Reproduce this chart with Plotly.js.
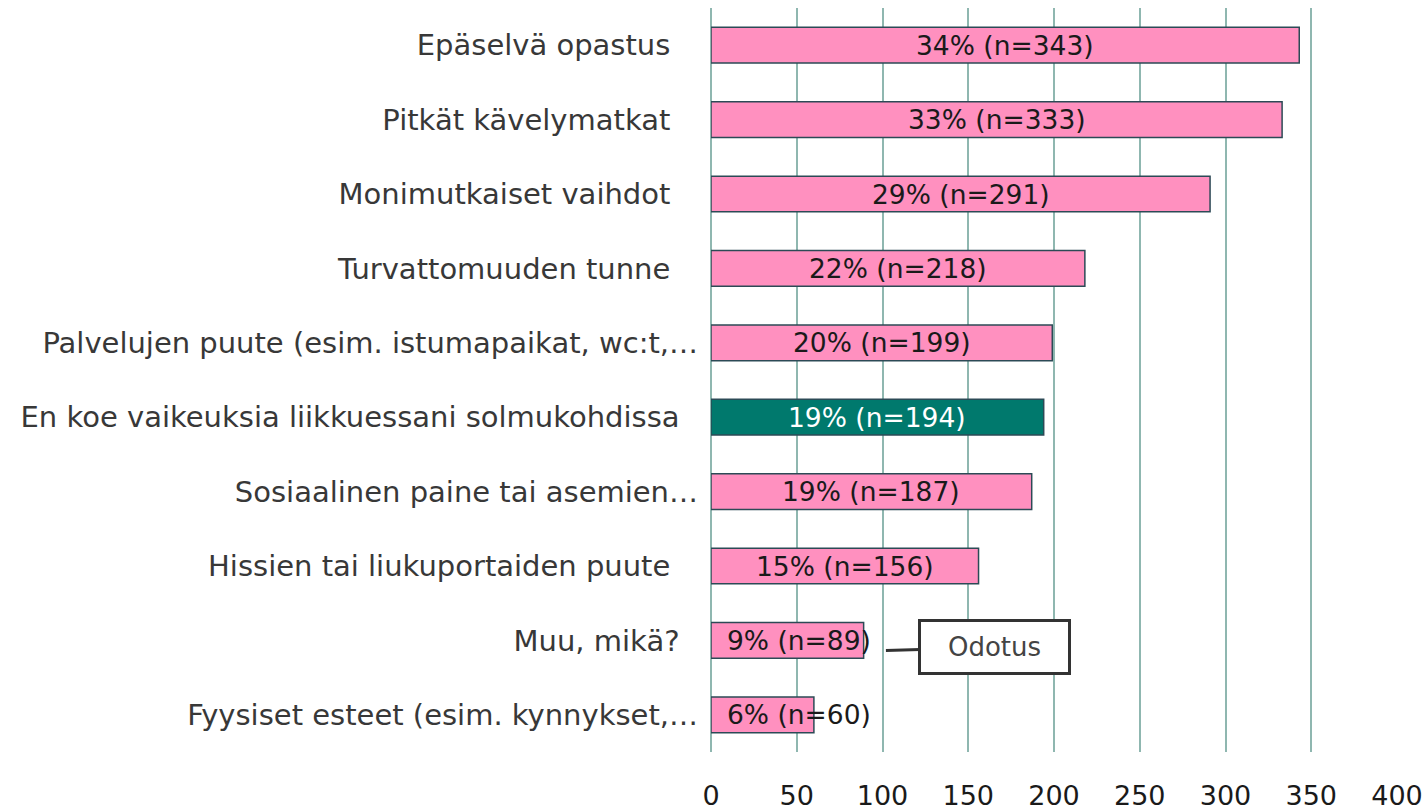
<!DOCTYPE html>
<html>
<head>
<meta charset="utf-8">
<script src="https://cdn.plot.ly/plotly-3.0.1.min.js"></script>
<style>html,body{margin:0;padding:0;background:#fff;}#chart{width:1425px;height:811px;}</style>
</head>
<body>
<div id="chart"></div>
<script>
const categories = [
  "Epäselvä opastus\u00a0\u00a0\u00a0",
  "Pitkät kävelymatkat\u00a0\u00a0\u00a0",
  "Monimutkaiset vaihdot\u00a0\u00a0\u00a0",
  "Turvattomuuden tunne\u00a0\u00a0\u00a0",
  "Palvelujen puute (esim. istumapaikat, wc:t,…",
  "En koe vaikeuksia liikkuessani solmukohdissa\u00a0\u00a0",
  "Sosiaalinen paine tai asemien…",
  "Hissien tai liukuportaiden puute\u00a0\u00a0\u00a0",
  "Muu, mikä?\u00a0\u00a0",
  "Fyysiset esteet (esim. kynnykset,…"
];
const counts = [343, 333, 291, 218, 199, 194, 187, 156, 89, 60];
const percents = [34, 33, 29, 22, 20, 19, 19, 15, 9, 6];
const highlighted = [false, false, false, false, false, true, false, false, false, false];
const xTicks = [0, 50, 100, 150, 200, 250, 300, 350, 400];
const calloutText = "Odotus";
const calloutCategoryIndex = 8;

const PINK = "#ff90bf", TEAL = "#00796d";
const FONT = "DejaVu Sans, sans-serif";

const trace = {
  type: "bar",
  orientation: "h",
  y: categories,
  x: counts,
  width: 0.48,
  marker: {
    color: highlighted.map(h => h ? TEAL : PINK),
    line: {color: "#2c4a56", width: 1.5}
  },
  hoverinfo: "none"
};

// labels centred in the bar; short bars get the label left-inset instead
const annotations = counts.map((c, i) => {
  const small = c < 100;
  return {
    x: small ? 0 : c / 2, y: categories[i], xref: "x", yref: "y",
    xanchor: small ? "left" : "center",
    xshift: small ? 14 : 0,
    text: percents[i] + "% (n=" + c + ")",
    showarrow: false,
    font: {family: FONT, size: 26.5, color: highlighted[i] ? "#ffffff" : "#1a1a1a"}
  };
});

annotations.push({
  x: counts[calloutCategoryIndex] + 13, y: categories[calloutCategoryIndex],
  xref: "x", yref: "y",
  yshift: -10,
  text: calloutText,
  showarrow: true, arrowhead: 0, arrowwidth: 3, arrowcolor: "#333333",
  ax: 109, ay: -3,
  bgcolor: "#ffffff", bordercolor: "#333333", borderwidth: 3, borderpad: 8,
  width: 131, height: 34,
  font: {family: FONT, size: 26, color: "#444444"}
});

const layout = {
  width: 1425, height: 811,
  margin: {l: 711, r: 28, t: 8, b: 59},
  paper_bgcolor: "#ffffff", plot_bgcolor: "#ffffff",
  showlegend: false,
  xaxis: {
    range: [0, 400],
    tickvals: xTicks,
    showgrid: true, gridcolor: "#8fb7b0", gridwidth: 2,
    zeroline: true, zerolinecolor: "#8fb7b0", zerolinewidth: 2,
    showline: false, ticks: "",
    ticklabelstandoff: 25,
    tickfont: {family: FONT, size: 27, color: "#1a1a1a"},
    fixedrange: true
  },
  yaxis: {
    autorange: "reversed",
    showgrid: false, zeroline: false, showline: false, ticks: "",
    ticklabelstandoff: 12,
    tickfont: {family: FONT, size: 29, color: "#383838"},
    fixedrange: true
  },
  annotations: annotations
};

Plotly.newPlot("chart", [trace], layout, {displayModeBar: false, staticPlot: true});
</script>
</body>
</html>
